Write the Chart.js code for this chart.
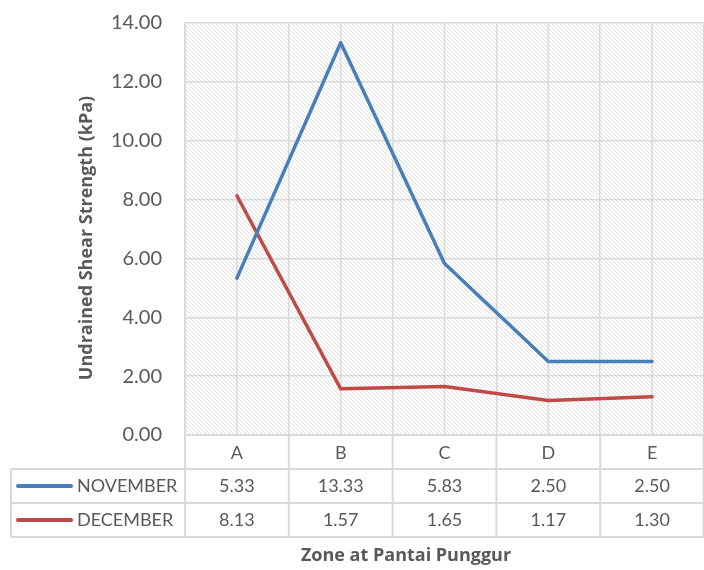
<!DOCTYPE html>
<html>
<head>
<meta charset="utf-8">
<script src="https://cdn.jsdelivr.net/npm/chart.js@4/dist/chart.umd.min.js"></script>
<style>
  html, body { margin: 0; padding: 0; background: #fff; }
  #wrap { width: 704px; height: 570px; position: relative; }
</style>
</head>
<body>
<div id="wrap"><canvas id="grafico"></canvas></div>
<script>
// data
const zones = ["A", "B", "C", "D", "E"];
const november = [5.33, 13.33, 5.83, 2.50, 2.50];
const december = [8.13, 1.57, 1.65, 1.17, 1.30];
const seriesNames = ["NOVEMBER", "DECEMBER"];
const seriesColors = ["#4A7EBB", "#BE4B48"];
const yMin = 0, yMax = 14, yStep = 2;
const xTitle = "Zone at Pantai Punggur";
const yTitle = "Undrained Shear Strength (kPa)";

const textColor = "#595959";
const gridColor = "#d9d9d9";
const fontFamily = "Lato, 'Liberation Sans', sans-serif";
const titleFamily = "'Open Sans', Lato, sans-serif";
const rowH = 34;

// diagonal hatch for the plot area
function hatch() {
  const c = document.createElement("canvas");
  c.width = 4; c.height = 4;
  const g = c.getContext("2d");
  g.fillStyle = "#fff";
  g.fillRect(0, 0, 4, 4);
  g.fillStyle = "#e0e0e0";
  for (let i = 0; i < 4; i++) g.fillRect(i, i, 1, 1);
  return g.createPattern(c, "repeat");
}

const fundo = {
  id: "fundo",
  beforeDraw(chart) {
    const { ctx, chartArea: a } = chart;
    ctx.save();
    ctx.fillStyle = hatch();
    ctx.fillRect(a.left, a.top, a.right - a.left, a.bottom - a.top);
    ctx.restore();
  },
  beforeDatasetsDraw(chart) {
    // vertical lines through each category centre too
    const { ctx, chartArea: a, scales: { x } } = chart;
    ctx.save();
    ctx.strokeStyle = gridColor;
    ctx.lineWidth = 1.5;
    zones.forEach((z, i) => {
      const px = x.getPixelForValue(i);
      ctx.beginPath();
      ctx.moveTo(px, a.top);
      ctx.lineTo(px, a.bottom);
      ctx.stroke();
    });
    ctx.restore();
  }
};

// data table under the plot, plus the axis titles
const tabela = {
  id: "tabela",
  afterDraw(chart) {
    const { ctx, chartArea: a, scales: { x } } = chart;
    const top = a.bottom;
    const legLeft = 11;
    const bounds = [a.left];
    for (let i = 0; i < zones.length - 1; i++) {
      bounds.push((x.getPixelForValue(i) + x.getPixelForValue(i + 1)) / 2);
    }
    bounds.push(a.right - 0.5);

    ctx.save();
    ctx.strokeStyle = gridColor;
    ctx.lineWidth = 2;
    // horizontal
    [[a.left, top + rowH], [legLeft, top + rowH], [legLeft, top + rowH * 2], [legLeft, top + rowH * 3]].forEach(([x0, y]) => {
      ctx.beginPath();
      ctx.moveTo(x0, y);
      ctx.lineTo(a.right, y);
      ctx.stroke();
    });
    // vertical
    bounds.forEach(b => {
      ctx.beginPath();
      ctx.moveTo(b, top);
      ctx.lineTo(b, top + rowH * 3);
      ctx.stroke();
    });
    ctx.beginPath();
    ctx.moveTo(legLeft, top + rowH);
    ctx.lineTo(legLeft, top + rowH * 3);
    ctx.stroke();

    ctx.font = "18px " + fontFamily;
    ctx.fillStyle = textColor;
    ctx.textBaseline = "middle";
    chart.data.datasets.forEach((ds, r) => {
      const cy = top + rowH * (r + 1) + rowH / 2;
      ctx.strokeStyle = ds.borderColor;
      ctx.lineWidth = 4;
      ctx.lineCap = "round";
      ctx.beginPath();
      ctx.moveTo(18, cy);
      ctx.lineTo(71, cy);
      ctx.stroke();
      ctx.textAlign = "left";
      ctx.fillText(ds.label, 77, cy);
      ctx.textAlign = "center";
      ds.data.forEach((v, i) => {
        ctx.fillText(v.toFixed(2), x.getPixelForValue(i), cy);
      });
    });

    ctx.font = "bold 18px " + titleFamily;
    ctx.textAlign = "center";
    ctx.fillText(xTitle, 406, 556);

    ctx.translate(87, 238);
    ctx.rotate(-Math.PI / 2);
    ctx.fillText(yTitle, 0, 0);
    ctx.restore();
  }
};

new Chart(document.getElementById("grafico"), {
  type: "line",
  data: {
    labels: zones,
    datasets: [
      { label: seriesNames[0], data: november, borderColor: seriesColors[0], backgroundColor: seriesColors[0] },
      { label: seriesNames[1], data: december, borderColor: seriesColors[1], backgroundColor: seriesColors[1] }
    ]
  },
  options: {
    responsive: true,
    maintainAspectRatio: false,
    animation: false,
    layout: { padding: { top: 23, right: 0, bottom: 0, left: 0 } },
    elements: {
      line: { borderWidth: 3.5, tension: 0, borderCapStyle: "round", borderJoinStyle: "round" },
      point: { radius: 0, hoverRadius: 0 }
    },
    plugins: {
      legend: { display: false },
      tooltip: { enabled: false }
    },
    scales: {
      x: {
        offset: true,
        grid: { offset: true, color: gridColor, lineWidth: 1.5, drawTicks: false },
        border: { color: gridColor, width: 2 },
        ticks: { color: textColor, font: { family: fontFamily, size: 18 }, padding: 7 },
        afterFit(scale) { scale.height = 135; }
      },
      y: {
        min: yMin,
        max: yMax,
        grid: { color: gridColor, lineWidth: 1.5, drawTicks: false },
        border: { color: gridColor, width: 2 },
        ticks: {
          stepSize: yStep,
          color: textColor,
          font: { family: fontFamily, size: 20 },
          padding: 23,
          callback: v => Number(v).toFixed(2)
        },
        afterFit(scale) {
          scale.width = 185;
          scale.paddingTop = 0;
          scale.paddingBottom = 0;
        }
      }
    }
  },
  plugins: [fundo, tabela]
});
</script>
</body>
</html>
